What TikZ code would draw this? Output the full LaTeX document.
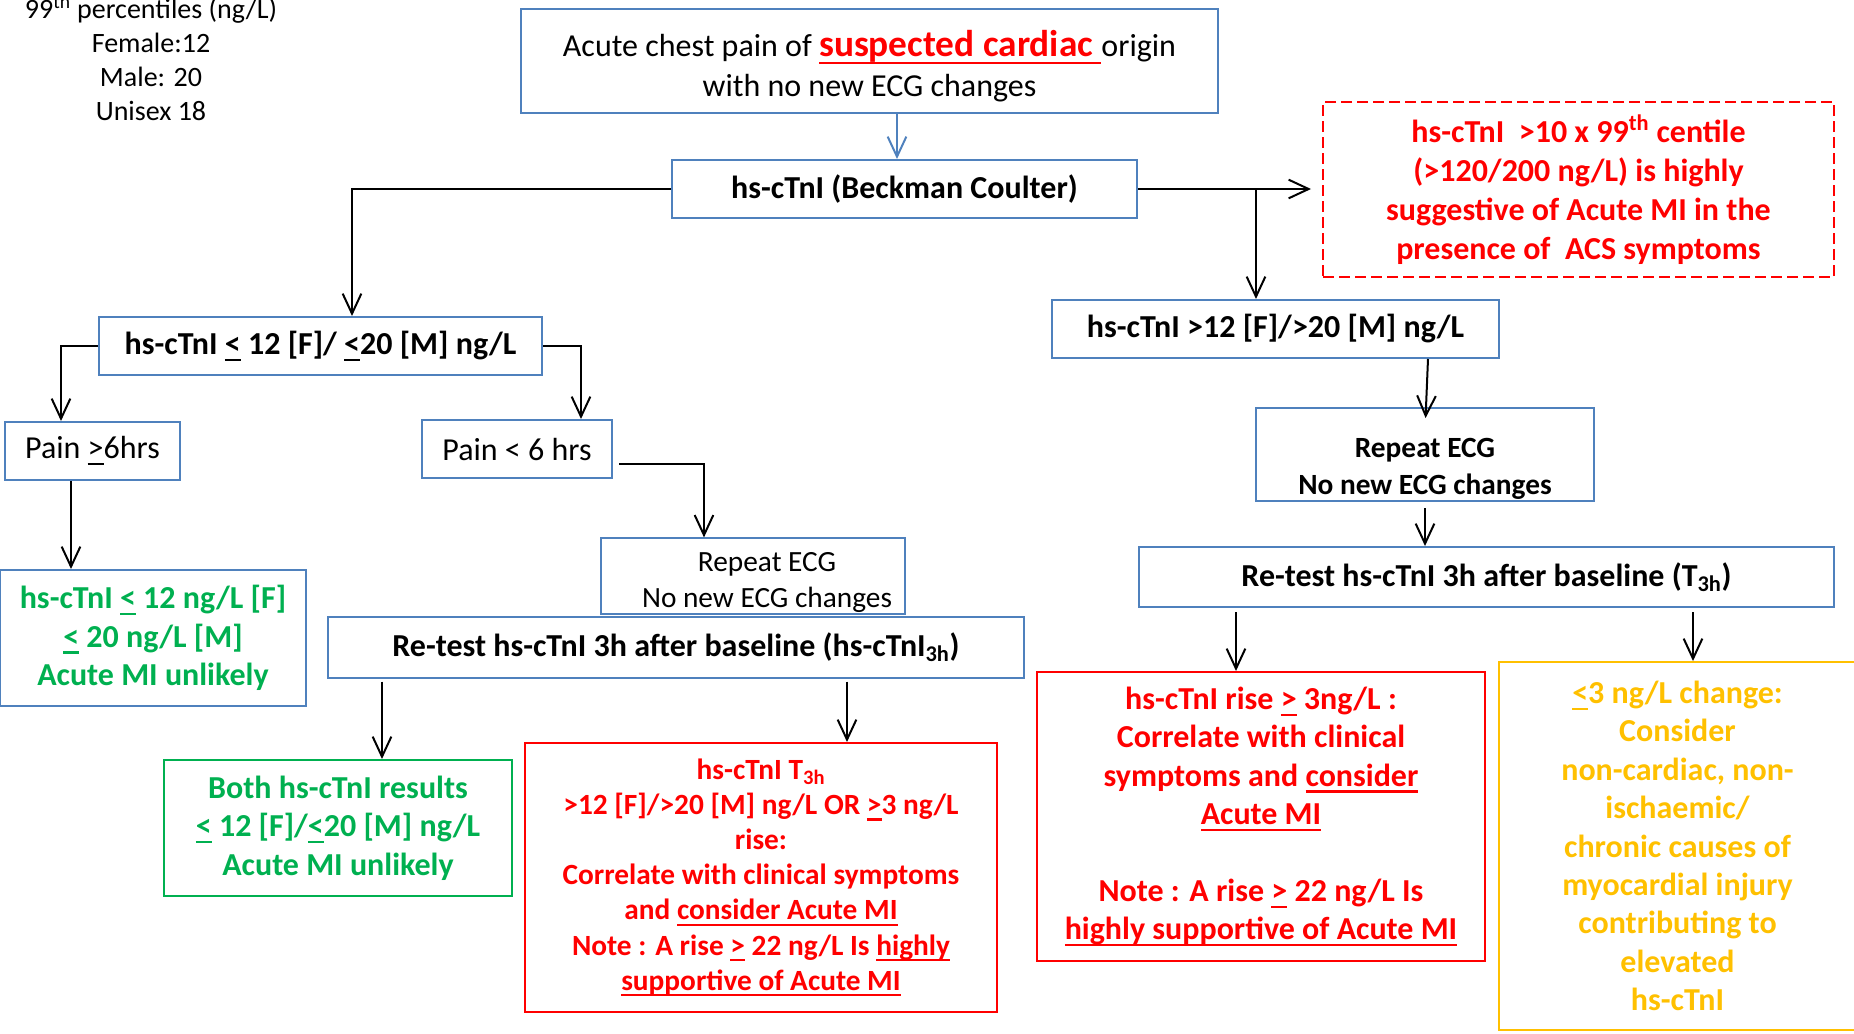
\documentclass[tikz,border=0pt]{standalone}
\usepackage{fontspec}
\setmainfont{Carlito}
\usetikzlibrary{arrows.meta}
\definecolor{boxblue}{HTML}{4F81BD}
\definecolor{okgreen}{HTML}{00B050}
\definecolor{warnred}{HTML}{FF0000}
\definecolor{gold}{HTML}{FFC000}
\newsavebox{\undlbox}
\newcommand{\undl}[1]{\leavevmode\sbox{\undlbox}{#1}\rlap{\rule[-0.2em]{\wd\undlbox}{1.6pt}}\usebox{\undlbox}}

\begin{document}
\begin{tikzpicture}[x=0.75pt, y=-0.75pt,
    bbox/.style={draw=boxblue, line width=1.5pt, align=center, inner sep=0pt, font=\fontsize{24}{28.8}\selectfont\bfseries},
    regtext/.style={font=\fontsize{24}{28.8}\selectfont},
    thinbox/.style={draw=boxblue, line width=0.9pt, align=center, inner sep=0pt},
    redbox/.style={bbox, draw=warnred, text=warnred},
    arr/.style={-{Straight Barb[length=15pt,width=14pt]}, line width=1.5pt}]
\useasboundingbox (0,0) rectangle (1854,1033);

% percentile note
\node[align=center, font=\fontsize{21}{25.5}\selectfont] (pct) at (151,58) {99\textsuperscript{th} percentiles (ng/L)\\Female:12\\Male: 20\\Unisex 18};

% first test
\node[bbox, font=\fontsize{24}{30}\selectfont, minimum width=522.75pt, minimum height=78pt] (top) at (869.5,61) {\rule{0pt}{28pt}Acute chest pain of \textcolor{warnred}{\fontsize{28}{30}\selectfont\bfseries\undl{suspected cardiac }}origin\\with no new ECG changes};
\node[bbox, minimum width=348.75pt, minimum height=43.5pt] (bc) at (904.5,189) {hs-cTnI (Beckman Coulter)};
\node[bbox, minimum width=332.25pt, minimum height=43.5pt] (le12) at (320.5,346) {hs-cTnI \undl{<} 12 [F]/ \undl{<}20 [M] ng/L};
\node[bbox, minimum width=335.25pt, minimum height=43.5pt] (gt12) at (1275.5,329) {hs-cTnI >12 [F]/>20 [M] ng/L};
\node[redbox, dash pattern=on 8pt off 4pt, line width=2pt, font=\fontsize{24}{29.25}\selectfont\bfseries, minimum width=383.25pt, minimum height=131.25pt] (acs) at (1578.5,189.5) {hs-cTnI~~>10 x 99\textsuperscript{th} centile\\(>120/200 ng/L) is highly\\suggestive of Acute MI in the\\presence of~~ACS symptoms};

% low branch
\node[bbox, regtext, minimum width=131.25pt, minimum height=43.5pt] (pge6) at (92.5,451) {Pain \undl{>}6hrs};
\node[bbox, regtext, minimum width=142.5pt, minimum height=43.5pt] (ps6) at (517,449) {Pain < 6 hrs};
\node[bbox, text=okgreen, minimum width=229.5pt, minimum height=102pt] (gL) at (153,638) {hs-cTnI \undl{<} 12 ng/L [F]\\\undl{<} 20 ng/L [M]\\Acute MI unlikely};
\node[thinbox, font=\fontsize{22}{26.6}\selectfont, minimum width=228pt, minimum height=57pt] (ecgL) at (753,576) {\rule{0pt}{24pt}\hspace*{21pt}Repeat ECG\\\hspace*{21pt}No new ECG changes};
\node[bbox, minimum width=522pt, minimum height=45.75pt] (rtL) at (676,647.5) {Re-test hs-cTnI 3h after baseline (hs-cTnI\textsubscript{3h})};
\node[bbox, draw=okgreen, text=okgreen, minimum width=261pt, minimum height=102pt] (both) at (338,828) {Both hs-cTnI results\\\undl{<} 12 [F]/\undl{<}20 [M] ng/L\\Acute MI unlikely};
\node[redbox, font=\fontsize{22}{26.3}\selectfont\bfseries, minimum width=354pt, minimum height=201.75pt] (redL) at (761,877.5) {hs-cTnI T\textsubscript{3h}\\>12 [F]/>20 [M] ng/L OR \undl{>}3 ng/L\\rise:\\Correlate with clinical symptoms\\and \undl{consider Acute MI}\\Note : A rise \undl{>} 22 ng/L Is \undl{highly}\\\undl{supportive of Acute MI}};

% high branch
\node[thinbox, font=\fontsize{22}{27.5}\selectfont\bfseries, minimum width=253.5pt, minimum height=69.75pt] (ecgR) at (1425,454.5) {\rule{0pt}{36pt}Repeat ECG\\No new ECG changes};
\node[bbox, minimum width=521.25pt, minimum height=45pt] (rtR) at (1486.5,577) {Re-test hs-cTnI 3h after baseline (T\textsubscript{3h})};
\node[redbox, minimum width=336pt, minimum height=216.75pt] (redR) at (1261,816.5) {hs-cTnI rise \undl{>} 3ng/L :\\Correlate with clinical\\symptoms and \undl{consider}\\\undl{Acute MI}\\[28.8pt]Note : A rise \undl{>} 22 ng/L Is\\\undl{highly supportive of Acute MI}};
\node[bbox, draw=gold, text=gold, minimum width=267.75pt, minimum height=276pt] (yel) at (1677.5,846) {\undl{<}3 ng/L change:\\Consider\\non-cardiac, non-\\ischaemic/\\chronic causes of\\myocardial injury\\contributing to\\elevated\\hs-cTnI};

% connectors
\draw[arr, draw=boxblue] (top.south -| 897,0) -- (bc.north -| 897,0);
\draw[arr] (bc.west) -| (le12.north -| 352,0);
\draw[arr, shorten >=8pt] (bc.east) -- (acs.west |- bc.east);
\draw[arr] (bc.east -| 1256,0) -- (gt12.north -| 1256,0);
\draw[arr] (le12.west) -| (pge6.north -| 61,0);
\draw[arr] (le12.east) -| (ps6.north -| 581,0);
\draw[arr] (pge6.south -| 71,0) -- (gL.north -| 71,0);
\draw[arr] (ps6.east) ++(6,15) -| (ecgL.north -| 704,0);
\draw[arr, shorten <=2pt] (rtL.south -| 382,0) -- (both.north -| 382,0);
\draw[arr, shorten <=2pt] (rtL.south -| 847,0) -- (redL.north -| 847,0);
\draw[arr, shorten >=-8pt] (gt12.south -| 1428,0) -- (ecgR.north -| 1426,0);
\draw[arr, shorten <=5pt] (ecgR.south) -- (rtR.north -| ecgR.south);
\draw[arr, shorten <=3pt] (rtR.south -| 1236,0) -- (redR.north -| 1236,0);
\draw[arr, shorten <=3pt] (rtR.south -| 1693,0) -- (yel.north -| 1693,0);
\end{tikzpicture}
\end{document}
